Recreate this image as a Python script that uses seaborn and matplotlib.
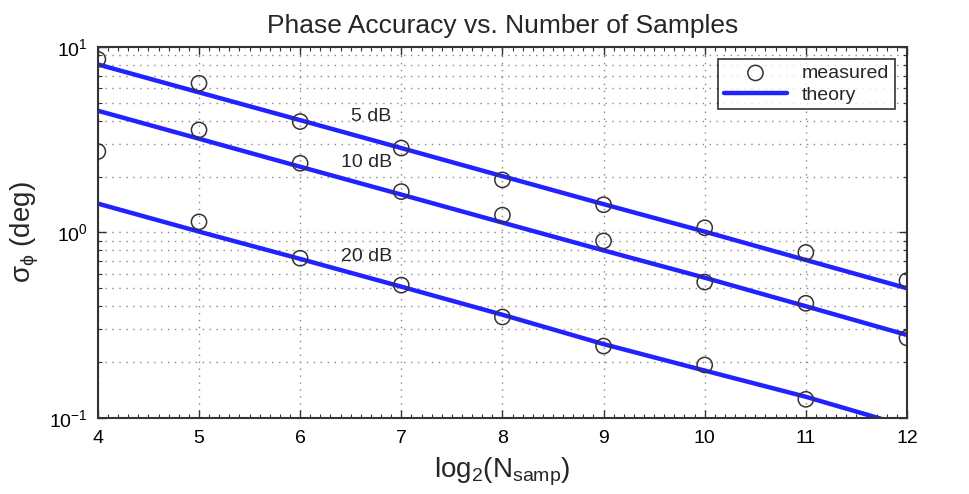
import numpy as np
import pandas as pd
import seaborn as sns
import matplotlib.pyplot as plt
from matplotlib.ticker import LogLocator, MultipleLocator, NullFormatter

# valores
log2_n = [4, 5, 6, 7, 8, 9, 10, 11, 12]
snr_labels = ["5 dB", "10 dB", "20 dB"]

theory_5db = [8.05, 5.69, 4.03, 2.85, 2.01, 1.42, 1.01, 0.71, 0.50]
theory_10db = [4.53, 3.20, 2.26, 1.60, 1.13, 0.80, 0.57, 0.40, 0.28]
theory_20db = [1.43, 1.01, 0.72, 0.51, 0.36, 0.25, 0.18, 0.13, 0.09]

meas_5db = [8.58, 6.37, 3.96, 2.85, 1.92, 1.41, 1.06, 0.78, 0.55]
meas_10db = [2.73, 3.57, 2.36, 1.66, 1.24, 0.90, 0.54, 0.415, 0.27]
meas_20db = [np.nan, 1.14, 0.726, 0.52, 0.35, 0.244, 0.193, 0.126, np.nan]

label_x = [6.5, 6.4, 6.4]
label_y = [4.2, 2.37, 0.74]

theory = pd.DataFrame({
    "x": log2_n * 3,
    "y": theory_5db + theory_10db + theory_20db,
    "snr": sum([[s] * len(log2_n) for s in snr_labels], []),
})
meas = pd.DataFrame({
    "x": log2_n * 3,
    "y": meas_5db + meas_10db + meas_20db,
    "snr": sum([[s] * len(log2_n) for s in snr_labels], []),
}).dropna()

sns.set_style("ticks")
plt.rcParams["font.family"] = ["Liberation Sans", "DejaVu Sans"]
plt.rcParams["mathtext.fontset"] = "custom"
plt.rcParams["mathtext.rm"] = "Liberation Sans"
plt.rcParams["mathtext.it"] = "Liberation Sans"

fig = plt.figure(figsize=(9.69, 4.94), dpi=100)
ax = fig.add_axes([0.101, 0.154, 0.835, 0.751])

for i, s in enumerate(snr_labels):
    sns.lineplot(data=theory[theory.snr == s], x="x", y="y", ax=ax,
                 color="#2222ff", lw=3.2, label="theory" if i == 0 else None,
                 zorder=2)
sns.scatterplot(data=meas, x="x", y="y", ax=ax, marker="o", s=120,
                facecolor="none", edgecolor="#333333", linewidth=1.1,
                label="measured", zorder=3)

for s, tx, ty in zip(snr_labels, label_x, label_y):
    ax.text(tx, ty, s, fontsize=14, va="center", ha="left")

ax.set_yscale("log")
ax.set_xlim(4, 12)
ax.set_ylim(0.1, 10)
ax.xaxis.set_major_locator(MultipleLocator(1))
ax.xaxis.set_minor_locator(MultipleLocator(0.1))
ax.yaxis.set_major_locator(LogLocator(base=10))
ax.yaxis.set_minor_locator(LogLocator(base=10, subs=np.arange(2, 10)))
ax.yaxis.set_minor_formatter(NullFormatter())

dots = (0, (1, 4))
ax.grid(True, which="major", color="#888888", ls=dots, lw=1)
ax.grid(True, which="minor", axis="y", color="#888888", ls=dots, lw=1)
ax.grid(False, which="minor", axis="x")
ax.tick_params(which="both", direction="in", top=True, right=True,
               labelsize=14, color="#333333", labelcolor="black")
ax.tick_params(which="major", length=6, width=1)
ax.tick_params(which="minor", length=3, width=0.8)
ax.tick_params(axis="x", which="major", pad=9)
ax.tick_params(axis="y", which="major", pad=7)
for sp in ax.spines.values():
    sp.set_color("#333333")
    sp.set_linewidth(1.5)

ax.set_title("Phase Accuracy vs. Number of Samples", fontsize=19, pad=10)
ax.set_xlabel(r"log$_2$(N$_{\rm samp}$)", fontsize=20, labelpad=6)
ax.set_ylabel(r"$\sigma_\phi$ (deg)", fontsize=20, labelpad=6)

handles, labels = ax.get_legend_handles_labels()
order = [labels.index("measured"), labels.index("theory")]
leg = ax.legend([handles[k] for k in order], [labels[k] for k in order],
                loc="upper right", fontsize=14, frameon=True, fancybox=False,
                edgecolor="black", borderaxespad=0.6, handlelength=3.2,
                borderpad=0.3, labelspacing=0.2)
leg.get_frame().set_linewidth(1.2)

fig.savefig("out.png", dpi=100)
